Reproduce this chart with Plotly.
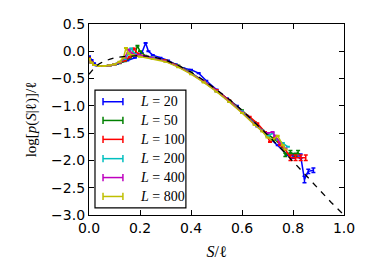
import plotly.graph_objects as go

# ---------------- data ----------------
L_values = [20, 50, 100, 200, 400, 800]
colors = ["#0000ff", "#008000", "#ff0000", "#00bfbf", "#bf00bf", "#bfbf00"]

x_L20 = [0.0, 0.01, 0.02, 0.03, 0.05, 0.08, 0.11, 0.15, 0.18, 0.207, 0.222, 0.233, 0.25, 0.28, 0.31,
         0.34, 0.37, 0.4, 0.43, 0.46, 0.5, 0.54, 0.58, 0.62, 0.66, 0.7, 0.74, 0.78, 0.8, 0.83, 0.845, 0.86, 0.88]
y_L20 = [-0.09, -0.16, -0.22, -0.26, -0.27, -0.26, -0.23, -0.17, -0.12, -0.03, 0.15, 0.0, -0.07, -0.12, -0.17,
         -0.24, -0.31, -0.34, -0.4, -0.54, -0.7, -0.86, -1.0, -1.18, -1.38, -1.55, -1.72, -1.9, -1.92, -1.92, -2.35, -2.2, -2.18]
e_L20 = [0.005] * 28 + [0.04, 0.04, 0.06, 0.04, 0.04]

x_L50 = [0.0, 0.01, 0.02, 0.04, 0.06, 0.08, 0.1, 0.12, 0.14, 0.16, 0.18, 0.19, 0.2, 0.22, 0.25, 0.3,
         0.35, 0.4, 0.45, 0.5, 0.55, 0.6, 0.65, 0.7, 0.73, 0.76, 0.77, 0.79, 0.81, 0.82]
y_L50 = [-0.12, -0.2, -0.25, -0.27, -0.27, -0.26, -0.24, -0.22, -0.18, -0.12, -0.05, 0.1, 0.0, -0.08, -0.12, -0.17,
         -0.26, -0.39, -0.55, -0.72, -0.9, -1.08, -1.3, -1.52, -1.62, -1.76, -1.9, -1.85, -1.9, -1.85]
e_L50 = [0.005] * 26 + [0.03, 0.03, 0.03, 0.03]

x_L100 = [0.0, 0.01, 0.02, 0.04, 0.06, 0.08, 0.1, 0.12, 0.14, 0.16, 0.176, 0.19, 0.21, 0.25, 0.3, 0.35,
          0.4, 0.45, 0.5, 0.55, 0.6, 0.63, 0.66, 0.69, 0.71, 0.73, 0.75, 0.77, 0.79, 0.81, 0.83, 0.85]
y_L100 = [-0.13, -0.2, -0.25, -0.27, -0.27, -0.26, -0.24, -0.21, -0.17, -0.1, 0.05, -0.04, -0.08, -0.12, -0.17, -0.27,
          -0.4, -0.55, -0.71, -0.9, -1.1, -1.2, -1.32, -1.48, -1.66, -1.58, -1.72, -1.8, -1.95, -1.95, -1.95, -1.95]
e_L100 = [0.005] * 28 + [0.05, 0.05, 0.05, 0.05]

x_L200 = [0.0, 0.01, 0.02, 0.04, 0.06, 0.08, 0.1, 0.12, 0.14, 0.155, 0.165, 0.18, 0.2, 0.25, 0.3, 0.35,
          0.4, 0.45, 0.5, 0.55, 0.6, 0.65, 0.68, 0.7, 0.72, 0.74, 0.76, 0.78]
y_L200 = [-0.14, -0.21, -0.25, -0.27, -0.27, -0.26, -0.24, -0.2, -0.14, -0.05, 0.05, -0.05, -0.08, -0.12, -0.18, -0.28,
          -0.4, -0.56, -0.73, -0.92, -1.1, -1.33, -1.45, -1.56, -1.5, -1.62, -1.68, -1.75]
e_L200 = [0.005] * 28

x_L400 = [0.0, 0.01, 0.02, 0.04, 0.06, 0.08, 0.1, 0.12, 0.14, 0.155, 0.17, 0.19, 0.22, 0.25, 0.3, 0.35,
          0.4, 0.45, 0.5, 0.55, 0.6, 0.65, 0.68, 0.7, 0.72, 0.73, 0.75, 0.77]
y_L400 = [-0.14, -0.21, -0.25, -0.27, -0.27, -0.26, -0.24, -0.2, -0.12, 0.03, -0.05, -0.07, -0.09, -0.13, -0.18, -0.28,
          -0.41, -0.56, -0.73, -0.92, -1.12, -1.34, -1.46, -1.5, -1.48, -1.55, -1.68, -1.78]
e_L400 = [0.005] * 28

x_L800 = [0.0, 0.01, 0.02, 0.04, 0.06, 0.08, 0.1, 0.12, 0.135, 0.145, 0.155, 0.17, 0.2, 0.25, 0.3, 0.35,
          0.4, 0.45, 0.5, 0.55, 0.6, 0.65, 0.68, 0.7, 0.72, 0.74, 0.76, 0.77]
y_L800 = [-0.14, -0.21, -0.25, -0.27, -0.27, -0.26, -0.24, -0.19, -0.12, 0.06, -0.04, -0.07, -0.1, -0.14, -0.19, -0.29,
          -0.42, -0.57, -0.74, -0.93, -1.13, -1.35, -1.47, -1.58, -1.62, -1.55, -1.72, -1.8]
e_L800 = [0.005] * 28

x_fit = [0.0, 0.01, 0.02, 0.04, 0.06, 0.08, 0.1, 0.15, 0.2, 0.25, 0.3, 0.35, 0.4, 0.45, 0.5,
         0.55, 0.6, 0.65, 0.7, 0.75, 0.8, 0.85, 0.9, 0.95, 1.0]
y_fit = [-0.42, -0.36, -0.31, -0.23, -0.18, -0.15, -0.12, -0.09, -0.08, -0.1, -0.16, -0.26, -0.38, -0.53, -0.7,
         -0.88, -1.08, -1.3, -1.53, -1.77, -2.02, -2.28, -2.53, -2.77, -3.0]

x_ticks = [0.0, 0.2, 0.4, 0.6, 0.8, 1.0]
y_ticks = [0.5, 0.0, -0.5, -1.0, -1.5, -2.0, -2.5, -3.0]

series = [
    (x_L20, y_L20, e_L20),
    (x_L50, y_L50, e_L50),
    (x_L100, y_L100, e_L100),
    (x_L200, y_L200, e_L200),
    (x_L400, y_L400, e_L400),
    (x_L800, y_L800, e_L800),
]

# ---------------- figure ----------------
fig = go.Figure()
for (xs, ys, es), L, c in zip(series, L_values, colors):
    fig.add_trace(go.Scatter(
        x=xs, y=ys, mode="lines", name=f"L = {L}",
        line=dict(color=c, width=1.5),
        error_y=dict(type="data", array=es, visible=True, color=c, thickness=1.5, width=2),
        showlegend=False,
    ))

fig.add_trace(go.Scatter(
    x=x_fit, y=y_fit, mode="lines",
    line=dict(color="black", width=1.3, dash="6px,6px"),
    showlegend=False,
))

# manual matplotlib-style legend (paper coordinates)
leg_x0, leg_x1, leg_y0, leg_y1 = 0.0235, 0.38, 0.037, 0.654
shapes = [dict(type="rect", xref="paper", yref="paper", x0=leg_x0, x1=leg_x1, y0=leg_y0, y1=leg_y1,
               line=dict(color="black", width=1.2), fillcolor="white", layer="above")]
annotations = []
entry_y = [0.593, 0.495, 0.396, 0.295, 0.196, 0.097]
sx0, sx1, cap = 0.055, 0.133, 0.019
for L, c, ey in zip(L_values, colors, entry_y):
    shapes.append(dict(type="line", xref="paper", yref="paper", x0=sx0, x1=sx1, y0=ey, y1=ey,
                       line=dict(color=c, width=1.5), layer="above"))
    for sx in (sx0, sx1):
        shapes.append(dict(type="line", xref="paper", yref="paper", x0=sx, x1=sx, y0=ey - cap, y1=ey + cap,
                           line=dict(color=c, width=1.5), layer="above"))
    annotations.append(dict(xref="paper", yref="paper", x=0.192, y=ey, xanchor="left", yanchor="middle",
                            text=f"<i>L</i> = {L}", showarrow=False,
                            font=dict(family="Liberation Serif", size=14, color="black")))

fig.update_layout(
    width=374, height=280,
    margin=dict(l=89, r=30, t=24, b=65),
    paper_bgcolor="white", plot_bgcolor="white",
    font=dict(family="DejaVu Sans", size=14, color="black"),
    shapes=shapes, annotations=annotations,
    xaxis=dict(range=[0, 1], tickvals=x_ticks, ticktext=[f"{v:.1f}" for v in x_ticks],
               ticks="inside", ticklen=5, tickwidth=1, tickcolor="black",
               showline=True, linecolor="black", linewidth=1.3, mirror="ticks",
               showgrid=False, zeroline=False, automargin=False,
               tickfont=dict(family="DejaVu Sans", size=14),
               title=dict(text="<i>S</i>/ℓ", font=dict(family="Liberation Serif", size=16), standoff=10)),
    yaxis=dict(range=[-3, 0.5], tickvals=y_ticks, ticktext=[f"{v:.1f}".replace("-", "\u2212") for v in y_ticks],
               ticks="inside", ticklen=5, tickwidth=1, tickcolor="black",
               showline=True, linecolor="black", linewidth=1.3, mirror="ticks",
               showgrid=False, zeroline=False, automargin=False,
               tickfont=dict(family="DejaVu Sans", size=14),
               title=dict(text="log[<i>p</i>(<i>S</i>|ℓ)]/ℓ", font=dict(family="Liberation Serif", size=15), standoff=10)),
)

fig.write_html("out.html", config={"displayModeBar": False},
               post_script="document.body.style.margin='0';")
